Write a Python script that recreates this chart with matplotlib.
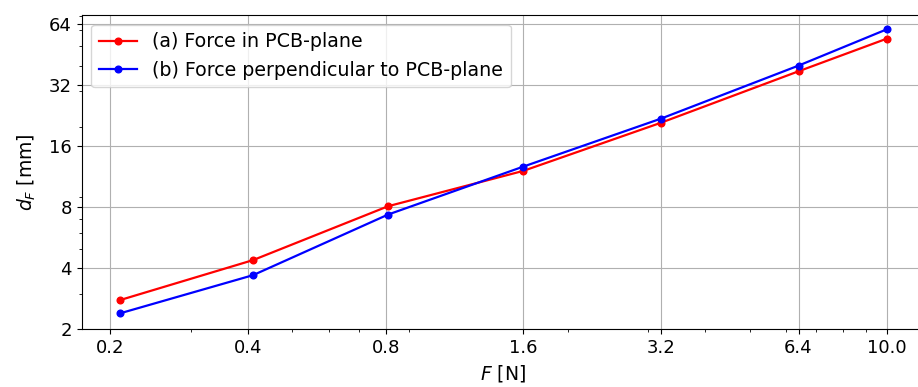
import matplotlib
matplotlib.use("Agg")
import matplotlib.pyplot as plt
from matplotlib.ticker import FixedLocator, FixedFormatter, NullFormatter

force = [0.21, 0.41, 0.81, 1.6, 3.2, 6.4, 10.0]
d_in_plane = [2.79, 4.39, 8.1, 12.1, 20.9, 37.5, 54.4]
d_perp = [2.40, 3.70, 7.37, 12.7, 21.9, 40.0, 60.5]
x_ticks = [0.2, 0.4, 0.8, 1.6, 3.2, 6.4, 10.0]
x_tick_labels = ["0.2", "0.4", "0.8", "1.6", "3.2", "6.4", "10.0"]
y_ticks = [2, 4, 8, 16, 32, 64]
y_tick_labels = ["2", "4", "8", "16", "32", "64"]
labels = ["(a) Force in PCB-plane", "(b) Force perpendicular to PCB-plane"]

plt.rcParams['font.size'] = 13.5
plt.rcParams['xtick.labelsize'] = 13
plt.rcParams['ytick.labelsize'] = 13
fig = plt.figure(figsize=(9.18, 3.87), dpi=100)
ax = fig.add_axes([0.089, 0.149, 1.0076 - 0.089, 0.961 - 0.149])

ax.plot(force, d_in_plane, color='red', marker='o', markersize=4.8, linewidth=1.6, label=labels[0])
ax.plot(force, d_perp, color='blue', marker='o', markersize=4.8, linewidth=1.6, label=labels[1])

ax.set_xscale('log')
ax.set_yscale('log')
ax.set_xlim(0.173, 12.1)
ax.set_ylim(2, 71)
ax.xaxis.set_major_locator(FixedLocator(x_ticks))
ax.xaxis.set_major_formatter(FixedFormatter(x_tick_labels))
ax.xaxis.set_minor_formatter(NullFormatter())
ax.yaxis.set_major_locator(FixedLocator(y_ticks))
ax.yaxis.set_major_formatter(FixedFormatter(y_tick_labels))
ax.yaxis.set_minor_formatter(NullFormatter())

ax.grid(True, which='major', color='#b0b0b0', linewidth=0.8)
ax.set_xlabel(r"$F$ [N]", labelpad=4)
ax.set_ylabel(r"$d_F$ [mm]", labelpad=8)
ax.legend(loc='upper left', fontsize=13.7)

fig.savefig("out.png", dpi=100)
